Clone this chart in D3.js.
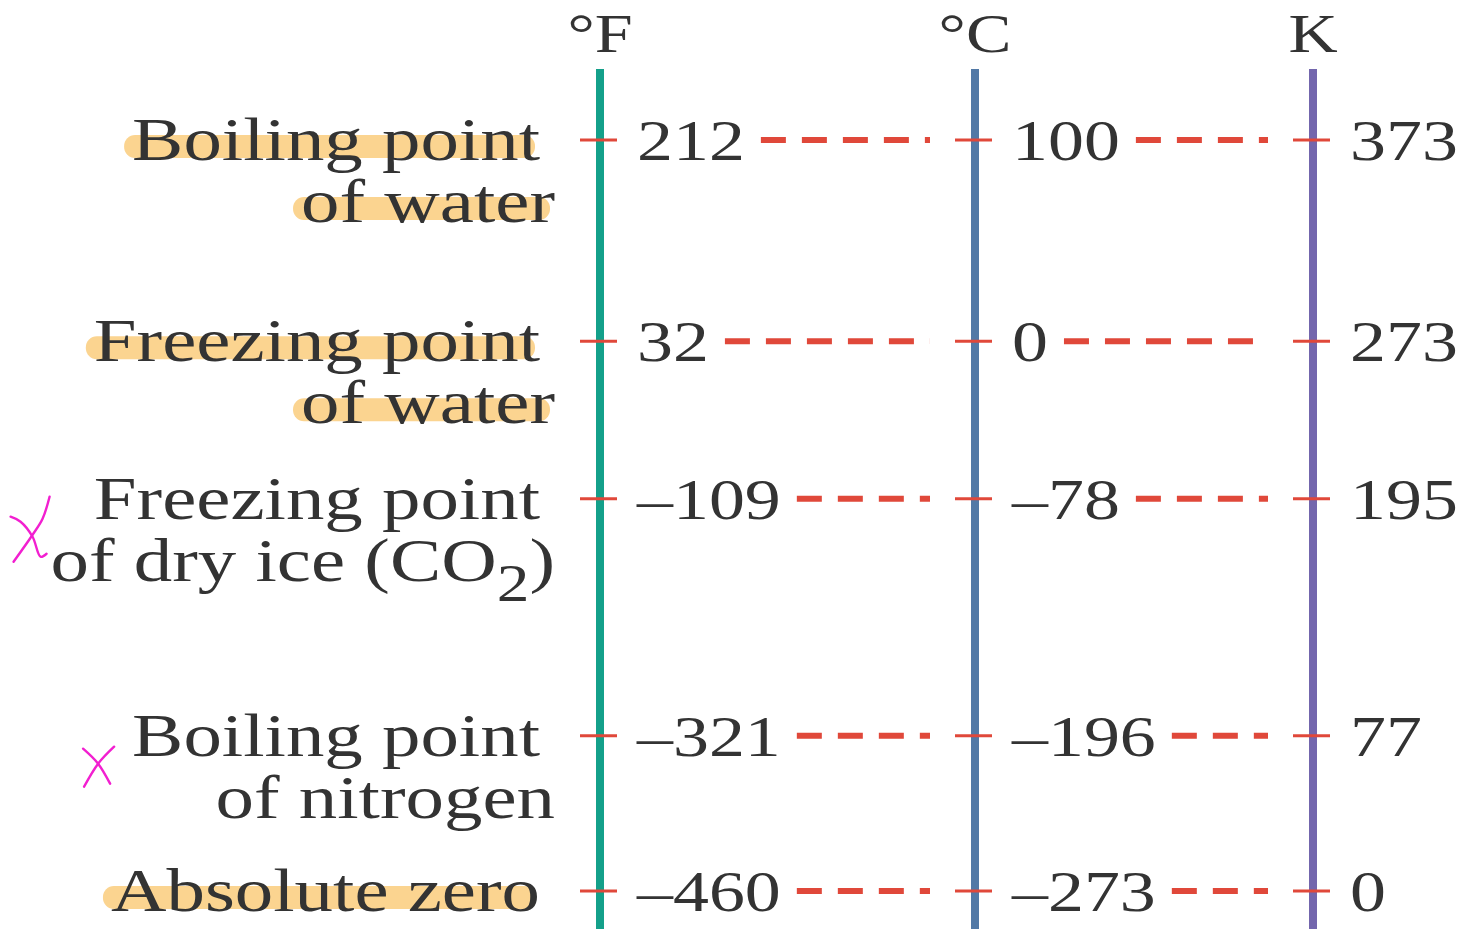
<!DOCTYPE html>
<html>
<head>
<meta charset="utf-8">
<script src="https://cdn.jsdelivr.net/npm/d3@7"></script>
<style>
  body { margin: 0; background: #fff; }
  svg { display: block; }
  text { font-family: "Liberation Serif", "DejaVu Serif", serif; fill: #333; }
</style>
</head>
<body>
<div id="chart"></div>
<script>
// data
var scaleNames = ["°F", "°C", "K"];
var labelLine1 = ["Boiling point", "Freezing point", "Freezing point", "Boiling point", "Absolute zero"];
var labelLine2 = ["of water", "of water", "of dry ice (CO₂)", "of nitrogen", ""];
var fahrenheit = [212, 32, -109, -321, -460];
var celsius = [100, 0, -78, -196, -273];
var kelvin = [373, 273, 195, 77, 0];
var highlighted = [true, true, false, false, true];
var crossed = [false, false, true, true, false];

var width = 1473, height = 929;
var stretch = 1.24;   // the type in the picture is wide, so stretch it a bit

var svg = d3.select('#chart')
  .append('svg')
  .attr('width', width)
  .attr('height', height);

var columns = [fahrenheit, celsius, kelvin];

// scales
var y = d3.scaleLinear().domain([-460, 212]).range([891, 140]);
var x = d3.scaleOrdinal().domain(scaleNames).range([600, 975, 1313]);
var color = d3.scaleOrdinal().domain(scaleNames).range(['#14a08a', '#5279a6', '#7366ad']);

var gHi = svg.append('g').attr('class', 'highlights');
var gLabels = svg.append('g').attr('class', 'labels');
var gAxes = svg.append('g').attr('class', 'axes');
var gRows = svg.append('g').attr('class', 'rows');
var gMarks = svg.append('g').attr('class', 'marks');

// hand drawn crosses (two strokes each), relative to their centre
var crossShapes = {
  2: { dx: -20, strokes: [[[19, -33], [12, -11], [2, 5], [-17, 32]],
                          [[-20, -13], [-10, -8], [2, 7], [10, 27], [16, 24]]] },
  3: { dx: -34, strokes: [[[16, -20], [0, -3], [-14, 20]],
                          [[-15, -18], [0, -3], [12, 17]]] }
};

function addText(g, str, tx, ty, anchor, size) {
  var t = g.append('text')
    .attr('transform', 'translate(' + tx + ',' + ty + ') scale(' + stretch + ',1)')
    .attr('text-anchor', anchor)
    .style('font-size', size + 'px');
  var parts = str.split('₂');
  if (parts.length > 1) {
    t.append('tspan').text(parts[0]);
    t.append('tspan').attr('dy', 20).style('font-size', '0.85em').text('2');
    t.append('tspan').attr('dy', -20).text(parts[1]);
  } else {
    t.text(str);
  }
  return t;
}

function fmt(v) {
  return v < 0 ? '\u2013' + Math.abs(v) : String(v);
}

// vertical scale lines
gAxes.selectAll('.scale-line')
  .data(scaleNames)
  .enter().append('line')
  .attr('class', 'scale-line')
  .attr('x1', function(d) { return x(d); })
  .attr('x2', function(d) { return x(d); })
  .attr('y1', 69)
  .attr('y2', height)
  .style('stroke', function(d) { return color(d); })
  .style('stroke-width', 8);

scaleNames.forEach(function(name) {
  addText(gAxes, name, x(name), 52, 'middle', 55);
});

// rows
fahrenheit.forEach(function(f, i) {
  var yy = y(f);

  // left labels
  var l1 = addText(gLabels, labelLine1[i], 540, yy + 20, 'end', 62);
  var w1 = l1.node().getComputedTextLength() * stretch;
  var start1 = 540 - w1, start2 = Infinity;
  var l2 = null, w2 = 0;
  if (labelLine2[i]) {
    l2 = addText(gLabels, labelLine2[i], 555, yy + 82, 'end', 62);
    w2 = l2.node().getComputedTextLength() * stretch;
    start2 = 555 - w2;
  }

  if (highlighted[i]) {
    gHi.append('rect')
      .attr('x', start1 - 8).attr('y', yy + 20 - 25)
      .attr('width', w1 + 3).attr('height', 23).attr('rx', 11)
      .style('fill', '#fbd490');
    if (l2) {
      gHi.append('rect')
        .attr('x', start2 - 8).attr('y', yy + 82 - 25)
        .attr('width', w2 + 3).attr('height', 23).attr('rx', 11)
        .style('fill', '#fbd490');
    }
  }

  if (crossed[i]) {
    var shape = crossShapes[i];
    var cx0 = Math.min(start1, start2) + shape.dx;
    var cy0 = yy + 31;
    var pen = d3.line().curve(d3.curveCatmullRom)
      .x(function(p) { return cx0 + p[0]; })
      .y(function(p) { return cy0 + p[1]; });
    gMarks.selectAll(null)
      .data(shape.strokes)
      .enter().append('path')
      .attr('d', pen)
      .attr('fill', 'none')
      .style('stroke', '#f21fd0')
      .style('stroke-width', 2.4)
      .style('stroke-linecap', 'round');
  }

  // ticks, values and dashed links across the three scales
  scaleNames.forEach(function(name, j) {
    var cx = x(name);
    gRows.append('line')
      .attr('x1', cx - 20).attr('x2', cx + 17)
      .attr('y1', yy).attr('y2', yy)
      .style('stroke', '#e0483a').style('stroke-width', 3);

    var t = addText(gRows, fmt(columns[j][i]), cx + 37, yy + 20, 'start', 58);
    var tEnd = cx + 37 + t.node().getComputedTextLength() * stretch;

    if (j < scaleNames.length - 1) {
      gRows.append('line')
        .attr('x1', tEnd + 16).attr('x2', x(scaleNames[j + 1]) - 45)
        .attr('y1', yy).attr('y2', yy)
        .style('stroke', '#e0483a').style('stroke-width', 6)
        .style('stroke-dasharray', '25 16');
    }
  });
});
</script>
</body>
</html>
